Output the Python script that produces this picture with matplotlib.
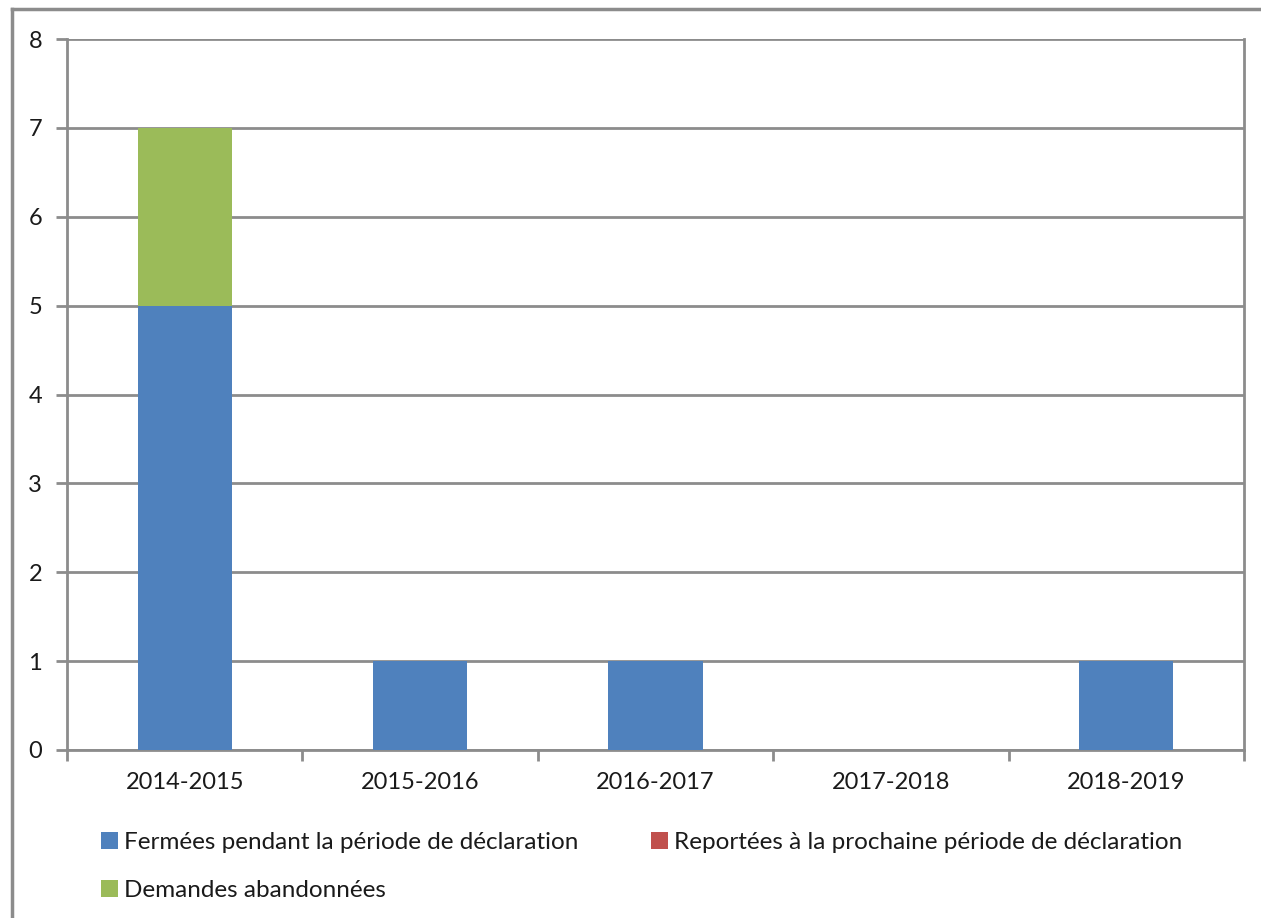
import numpy as np
import matplotlib.pyplot as plt
from matplotlib.patches import Patch
from matplotlib.lines import Line2D

# Data
periodes = ["2014-2015", "2015-2016", "2016-2017", "2017-2018", "2018-2019"]
fermees = [5, 1, 1, 0, 1]
reportees = [0, 0, 0, 0, 0]
abandonnees = [2, 0, 0, 0, 0]

labels = [
    "Fermées pendant la période de déclaration",
    "Reportées à la prochaine période de déclaration",
    "Demandes abandonnées",
]
colors = ["#4F81BD", "#C0504D", "#9BBB59"]
grid_col = "#8C8C8C"

plt.rcParams["font.family"] = ["Lato", "DejaVu Sans"]

W, H = 1261, 918
fig = plt.figure(figsize=(W / 100, H / 100), dpi=100)
ax = fig.add_axes([67 / W, 1 - 750 / H, (1244 - 67) / W, (750 - 39) / H])

x = np.arange(len(periodes))
bottom = np.zeros(len(periodes))
for vals, col in zip([fermees, reportees, abandonnees], colors):
    ax.bar(x, vals, width=0.4, bottom=bottom, color=col, zorder=3)
    bottom += np.array(vals)

ax.set_xlim(-0.5, len(periodes) - 0.5)
ax.set_ylim(0, 8)
ax.set_yticks(range(0, 9))
ax.yaxis.grid(True, color=grid_col, linewidth=2, zorder=0)
ax.set_axisbelow(True)

# category labels centred, ticks on the boundaries
ax.set_xticks(x)
ax.set_xticklabels(periodes, fontsize=17, color="#1a1a1a")
ax.tick_params(axis="x", which="major", length=0, pad=16)
ax.set_xticks(np.arange(-0.5, len(periodes)), minor=True)
ax.tick_params(axis="x", which="minor", length=8, width=2, color=grid_col, direction="out")
ax.tick_params(axis="y", length=8, width=2, color=grid_col, labelsize=17,
               labelcolor="#1a1a1a", pad=10)

for side in ["left", "bottom", "right"]:
    ax.spines[side].set_color(grid_col)
    ax.spines[side].set_linewidth(2)
ax.spines["top"].set_visible(False)

# legend in two columns, row order kept
handles = [Patch(facecolor=c, edgecolor="none") for c in colors]
order = [0, 2, 1]
fig.legend([handles[i] for i in order], [labels[i] for i in order],
           loc="upper left", bbox_to_anchor=(79 / W, 1 - 810 / H), ncol=2,
           frameon=False, fontsize=17.5, handlelength=0.7, handleheight=0.7,
           handletextpad=0.25, columnspacing=3.0, labelspacing=1.1,
           labelcolor="#1a1a1a")

# outer chart frame
fig.add_artist(Line2D([12 / W, 12 / W], [0, 1 - 9 / H], color=grid_col, linewidth=2.5,
                      transform=fig.transFigure))
fig.add_artist(Line2D([12 / W, 1], [1 - 9 / H, 1 - 9 / H], color=grid_col, linewidth=2.5,
                      transform=fig.transFigure))

fig.savefig("out.png", dpi=100)
